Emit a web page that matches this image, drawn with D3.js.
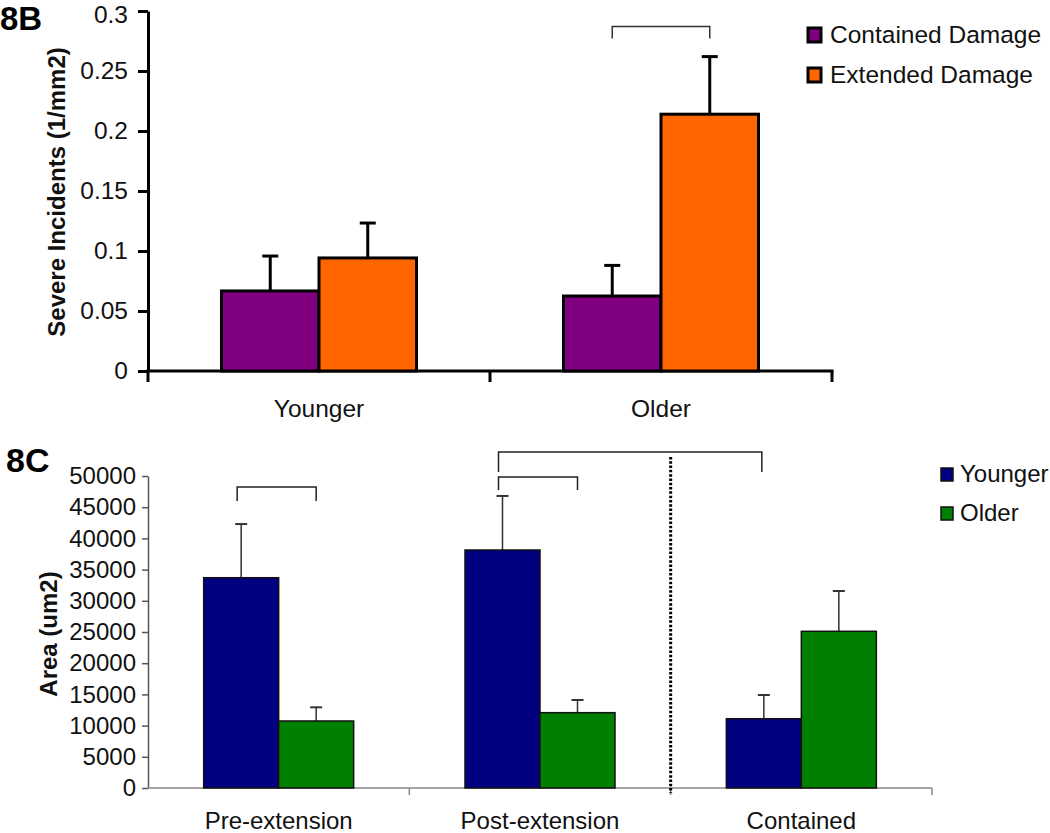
<!DOCTYPE html>
<html>
<head>
<meta charset="utf-8">
<script src="https://cdn.jsdelivr.net/npm/d3@7"></script>
<style>
  html, body { margin: 0; padding: 0; background: #fff; }
  svg { display: block; font-family: "Liberation Sans", Arial, sans-serif; }
</style>
</head>
<body>
<svg id="chart" width="1050" height="833"></svg>
<script>
// ---------- Data: panel 8B ----------
const groupsB = ["Younger", "Older"];
const seriesB = ["Contained Damage", "Extended Damage"];
const containedB = [0.0667, 0.0625];
const containedErrB = [0.0291, 0.0255];
const extendedB = [0.0942, 0.2140];
const extendedErrB = [0.0291, 0.0480];
const ticksB = [0, 0.05, 0.1, 0.15, 0.2, 0.25, 0.3];
const bracketB = { group: 1, top: 0.287, leg: 0.277 };

// ---------- Data: panel 8C ----------
const categoriesC = ["Pre-extension", "Post-extension", "Contained"];
const seriesC = ["Younger", "Older"];
const youngerC = [33700, 38140, 11100];
const youngerErrC = [8600, 8660, 3800];
const olderC = [10740, 12070, 25110];
const olderErrC = [2190, 2030, 6460];
const ticksC = [0, 5000, 10000, 15000, 20000, 25000, 30000, 35000, 40000, 45000, 50000];
// brackets: [category, series] endpoints, top value, leg value
const bracketsC = [
  { a: [0, 0], b: [0, 1], top: 48240, leg: 46000 },
  { a: [1, 0], b: [1, 1], top: 49840, leg: 47760 },
  { a: [1, 0], b: [2, 0], top: 53850, leg: 50640 }
];
const dividerTopC = 53050;

const svg = d3.select("#chart");

// ================= Panel 8B =================
const yB = d3.scaleLinear().domain([0, 0.3]).range([371, 11]);
const xB = d3.scaleBand().domain(groupsB).range([148, 832]);
const subB = d3.scaleBand().domain(seriesB).range([0, 195]);
const offB = (xB.bandwidth() - 195) / 2;
const colorB = d3.scaleOrdinal().domain(seriesB).range(["#800080", "#FF6600"]);

const gB = svg.append("g");

gB.append("text").attr("x", 0).attr("y", 30)
  .attr("font-size", 33).attr("font-weight", "bold").attr("fill", "#000").text("8B");

// y axis
const axB = gB.append("g").attr("transform", "translate(148,0)")
  .call(d3.axisLeft(yB).tickValues(ticksB).tickSize(10).tickSizeOuter(0).tickPadding(10)
    .tickFormat(d => String(+d.toFixed(2))));
axB.select(".domain").attr("stroke", "#000").attr("stroke-width", 3);
axB.selectAll(".tick line").attr("stroke", "#000").attr("stroke-width", 3);
axB.selectAll(".tick text").attr("font-size", 24.5).attr("fill", "#111")
  .attr("font-family", "Liberation Sans, Arial, sans-serif");
// keep the top label fully inside the picture
axB.selectAll(".tick text").filter(d => d === 0.3).attr("dy", "0.45em");

gB.append("text")
  .attr("transform", "translate(56,192) rotate(-90)")
  .attr("text-anchor", "middle").attr("dominant-baseline", "central")
  .attr("font-size", 24).attr("font-weight", "bold").attr("fill", "#111")
  .text("Severe Incidents (1/mm2)");

// x axis line and boundary ticks
gB.append("line").attr("x1", 146.5).attr("x2", 833.5).attr("y1", yB(0)).attr("y2", yB(0))
  .attr("stroke", "#000").attr("stroke-width", 3);
const boundB = groupsB.map(g => xB(g)).concat([xB.range()[1]]);
gB.selectAll(".btick").data(boundB).join("line")
  .attr("x1", d => d).attr("x2", d => d).attr("y1", yB(0)).attr("y2", yB(0) + 11)
  .attr("stroke", "#000").attr("stroke-width", 3);

gB.selectAll(".xlab").data(groupsB).join("text")
  .attr("x", d => xB(d) + xB.bandwidth() / 2).attr("y", 417)
  .attr("text-anchor", "middle").attr("font-size", 24.5).attr("fill", "#111").text(d => d);

// bars
const barsB = [];
groupsB.forEach((g, i) => {
  barsB.push({ g, s: seriesB[0], v: containedB[i], e: containedErrB[i] });
  barsB.push({ g, s: seriesB[1], v: extendedB[i], e: extendedErrB[i] });
});
const bx = d => xB(d.g) + offB + subB(d.s);
const errB = gB.append("g");
errB.selectAll("line.v").data(barsB).join("line")
  .attr("x1", d => bx(d) + subB.bandwidth() / 2).attr("x2", d => bx(d) + subB.bandwidth() / 2)
  .attr("y1", d => yB(d.v)).attr("y2", d => yB(d.v + d.e))
  .attr("stroke", "#000").attr("stroke-width", 3);
errB.selectAll("line.c").data(barsB).join("line")
  .attr("x1", d => bx(d) + subB.bandwidth() / 2 - 8).attr("x2", d => bx(d) + subB.bandwidth() / 2 + 8)
  .attr("y1", d => yB(d.v + d.e)).attr("y2", d => yB(d.v + d.e))
  .attr("stroke", "#000").attr("stroke-width", 3);
gB.selectAll("rect.bar").data(barsB).join("rect")
  .attr("x", bx).attr("width", subB.bandwidth())
  .attr("y", d => yB(d.v)).attr("height", d => yB(0) - yB(d.v))
  .attr("fill", d => colorB(d.s)).attr("stroke", "#000").attr("stroke-width", 3);

// bracket
{
  const g = groupsB[bracketB.group];
  const x1 = xB(g) + offB + subB(seriesB[0]) + subB.bandwidth() / 2;
  const x2 = xB(g) + offB + subB(seriesB[1]) + subB.bandwidth() / 2;
  gB.append("path")
    .attr("d", `M${x1},${yB(bracketB.leg)}V${yB(bracketB.top)}H${x2}V${yB(bracketB.leg)}`)
    .attr("fill", "none").attr("stroke", "#333").attr("stroke-width", 1.5);
}

// legend
const legB = gB.append("g");
seriesB.forEach((s, i) => {
  const row = legB.append("g").attr("transform", `translate(808,${28 + i * 40})`);
  row.append("rect").attr("width", 13).attr("height", 14)
    .attr("fill", colorB(s)).attr("stroke", "#000").attr("stroke-width", 3);
  row.append("text").attr("x", 22).attr("y", 15).attr("font-size", 24.5).attr("fill", "#111").text(s);
});

// ================= Panel 8C =================
const yC = d3.scaleLinear().domain([0, 50000]).range([788, 476]);
const xC = d3.scaleBand().domain(categoriesC).range([148, 932]);
const subC = d3.scaleBand().domain(seriesC).range([0, 150]);
const offC = (xC.bandwidth() - 150) / 2;
const colorC = d3.scaleOrdinal().domain(seriesC).range(["#000080", "#008000"]);

const gC = svg.append("g");
gC.append("text").attr("x", 6).attr("y", 472)
  .attr("font-size", 34).attr("font-weight", "bold").attr("fill", "#000").text("8C");

const axC = gC.append("g").attr("transform", "translate(148,0)")
  .call(d3.axisLeft(yC).tickValues(ticksC).tickSize(6).tickSizeOuter(0).tickPadding(6)
    .tickFormat(d3.format("d")));
axC.select(".domain").attr("stroke", "#555").attr("stroke-width", 1.5);
axC.selectAll(".tick line").attr("stroke", "#555").attr("stroke-width", 1.5);
axC.selectAll(".tick text").attr("font-size", 24).attr("fill", "#111")
  .attr("font-family", "Liberation Sans, Arial, sans-serif");

gC.append("text")
  .attr("transform", "translate(48,634) rotate(-90)")
  .attr("text-anchor", "middle").attr("dominant-baseline", "central")
  .attr("font-size", 24).attr("font-weight", "bold").attr("fill", "#111")
  .text("Area (um2)");

gC.append("line").attr("x1", 148).attr("x2", 932).attr("y1", yC(0)).attr("y2", yC(0))
  .attr("stroke", "#888").attr("stroke-width", 1.5);
const boundC = categoriesC.slice(1).map(c => xC(c)).concat([xC.range()[1]]);
gC.selectAll(".ctick").data(boundC).join("line")
  .attr("x1", d => d).attr("x2", d => d).attr("y1", yC(0)).attr("y2", yC(0) + 7)
  .attr("stroke", "#888").attr("stroke-width", 1.5);

gC.selectAll(".xlabC").data(categoriesC).join("text")
  .attr("x", d => xC(d) + xC.bandwidth() / 2).attr("y", 829)
  .attr("text-anchor", "middle").attr("font-size", 24).attr("fill", "#111").text(d => d);

const barsC = [];
categoriesC.forEach((c, i) => {
  barsC.push({ c, s: seriesC[0], v: youngerC[i], e: youngerErrC[i] });
  barsC.push({ c, s: seriesC[1], v: olderC[i], e: olderErrC[i] });
});
const cx = d => xC(d.c) + offC + subC(d.s);
const cmid = (ci, si) => xC(categoriesC[ci]) + offC + subC(seriesC[si]) + subC.bandwidth() / 2;

const errC = gC.append("g");
errC.selectAll("line.v").data(barsC).join("line")
  .attr("x1", d => cx(d) + subC.bandwidth() / 2).attr("x2", d => cx(d) + subC.bandwidth() / 2)
  .attr("y1", d => yC(d.v)).attr("y2", d => yC(d.v + d.e))
  .attr("stroke", "#333").attr("stroke-width", 1.5);
errC.selectAll("line.c").data(barsC).join("line")
  .attr("x1", d => cx(d) + subC.bandwidth() / 2 - 6).attr("x2", d => cx(d) + subC.bandwidth() / 2 + 6)
  .attr("y1", d => yC(d.v + d.e)).attr("y2", d => yC(d.v + d.e))
  .attr("stroke", "#333").attr("stroke-width", 2);
gC.selectAll("rect.bar").data(barsC).join("rect")
  .attr("x", cx).attr("width", subC.bandwidth())
  .attr("y", d => yC(d.v)).attr("height", d => yC(0) - yC(d.v))
  .attr("fill", d => colorC(d.s)).attr("stroke", "#111").attr("stroke-width", 1.5);

// divider
gC.append("line")
  .attr("x1", xC(categoriesC[2])).attr("x2", xC(categoriesC[2]))
  .attr("y1", yC(dividerTopC)).attr("y2", yC(0) + 5)
  .attr("stroke", "#000").attr("stroke-width", 3).attr("stroke-dasharray", "2.5,1.8");

// brackets
gC.selectAll("path.br").data(bracketsC).join("path")
  .attr("d", d => {
    const x1 = cmid(d.a[0], d.a[1]) - 4, x2 = cmid(d.b[0], d.b[1]) - (d.b[0] === d.a[0] ? 0 : 2);
    return `M${x1},${yC(d.leg)}V${yC(d.top)}H${x2}V${yC(d.leg)}`;
  })
  .attr("fill", "none").attr("stroke", "#222").attr("stroke-width", 1.5);

// legend
seriesC.forEach((s, i) => {
  const row = gC.append("g").attr("transform", `translate(941,${468 + i * 39})`);
  row.append("rect").attr("width", 12).attr("height", 13)
    .attr("fill", colorC(s)).attr("stroke", "#111").attr("stroke-width", 1.5);
  row.append("text").attr("x", 19).attr("y", 14).attr("font-size", 24).attr("fill", "#111").text(s);
});
</script>
</body>
</html>
